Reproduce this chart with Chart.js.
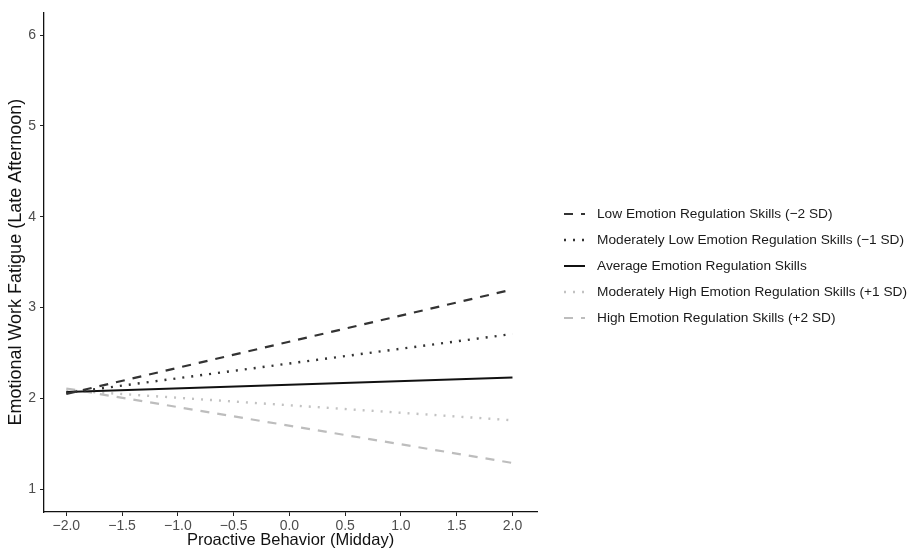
<!DOCTYPE html>
<html lang="en">
<head>
    <meta charset="UTF-8">
    <title>Emotional Work Fatigue</title>
    <style>
        html, body { margin: 0; padding: 0; background: #fff; }
        #box { width: 913px; height: 551px; }
    </style>
</head>
<body>
    <div id="box">
        <canvas id="grafico" width="913" height="551"></canvas>
    </div>

    <script src="https://cdn.jsdelivr.net/npm/chart.js"></script>
    <script>
    // dados
    const xValues = [-2, 2];
    const lowSD2 = [2.05, 3.20];
    const modLowSD1 = [2.06, 2.71];
    const average = [2.07, 2.23];
    const modHighSD1 = [2.09, 1.76];
    const highSD2 = [2.11, 1.29];

    const xTicks = [-2, -1.5, -1, -0.5, 0, 0.5, 1, 1.5, 2];
    const yTicks = [1, 2, 3, 4, 5, 6];

    const labels = [
        'Low Emotion Regulation Skills (\u22122 SD)',
        'Moderately Low Emotion Regulation Skills (\u22121 SD)',
        'Average Emotion Regulation Skills',
        'Moderately High Emotion Regulation Skills (+1 SD)',
        'High Emotion Regulation Skills (+2 SD)'
    ];

    function pontos(ys) {
        return xValues.map(function(x, i) { return { x: x, y: ys[i] }; });
    }

    const fonte = 'Liberation Sans, Arial, Helvetica, sans-serif';

    // legenda desenhada a mao (estilo ggplot)
    const legendaPlugin = {
        id: 'legendaPlugin',
        afterDraw: function(chart) {
            const ctx = chart.ctx;
            const x0 = 564, y0 = 214, passo = 26;
            chart.data.datasets.forEach(function(ds, i) {
                const y = y0 + i * passo;
                ctx.save();
                ctx.strokeStyle = ds.borderColor;
                ctx.lineWidth = ds.borderWidth;
                ctx.setLineDash(ds.borderDash || []);
                ctx.beginPath();
                ctx.moveTo(x0, y);
                ctx.lineTo(x0 + 21, y);
                ctx.stroke();
                ctx.restore();

                ctx.save();
                ctx.fillStyle = '#1a1a1a';
                ctx.font = '13.7px ' + fonte;
                ctx.textBaseline = 'middle';
                ctx.fillText(ds.label, 597, y);
                ctx.restore();
            });
        }
    };

    const ctx = document.getElementById('grafico');

    new Chart(ctx, {
        type: 'line',
        data: {
            datasets: [
                {
                    label: labels[0],
                    data: pontos(lowSD2),
                    borderColor: '#333333',
                    borderWidth: 2.2,
                    borderDash: [9, 8]
                },
                {
                    label: labels[1],
                    data: pontos(modLowSD1),
                    borderColor: '#333333',
                    borderWidth: 2.4,
                    borderDash: [2, 7]
                },
                {
                    label: labels[2],
                    data: pontos(average),
                    borderColor: '#111111',
                    borderWidth: 2
                },
                {
                    label: labels[3],
                    data: pontos(modHighSD1),
                    borderColor: '#c2c2c2',
                    borderWidth: 2.4,
                    borderDash: [2, 7]
                },
                {
                    label: labels[4],
                    data: pontos(highSD2),
                    borderColor: '#bdbdbd',
                    borderWidth: 2.2,
                    borderDash: [9, 8]
                }
            ]
        },
        options: {
            responsive: false,
            animation: false,
            devicePixelRatio: 1,
            layout: { padding: { top: 10, right: 376, left: 0, bottom: 0 } },
            elements: { point: { radius: 0 }, line: { tension: 0 } },
            plugins: {
                legend: { display: false },
                tooltip: { enabled: false }
            },
            scales: {
                x: {
                    type: 'linear',
                    min: -2.2,
                    max: 2.22,
                    afterBuildTicks: function(scale) {
                        scale.ticks = xTicks.map(function(v) { return { value: v }; });
                    },
                    afterFit: function(scale) { scale.height = 39; },
                    ticks: {
                        color: '#4d4d4d',
                        font: { size: 14, family: fonte },
                        padding: 2,
                        maxRotation: 0,
                        autoSkip: false,
                        callback: function(v) { return Number(v).toFixed(1).replace('-', '\u2212'); }
                    },
                    grid: { drawOnChartArea: false, drawTicks: true, tickLength: 4, color: '#222', tickWidth: 1 },
                    border: { display: true, color: '#111', width: 1.3 },
                    title: {
                        display: true,
                        text: 'Proactive Behavior (Midday)',
                        color: '#111',
                        font: { size: 16.5, family: fonte },
                        padding: { top: 0, bottom: 1 }
                    }
                },
                y: {
                    type: 'linear',
                    min: 0.75,
                    max: 6.25,
                    afterBuildTicks: function(scale) {
                        scale.ticks = yTicks.map(function(v) { return { value: v }; });
                    },
                    afterFit: function(scale) { scale.width = 44; },
                    ticks: {
                        color: '#4d4d4d',
                        font: { size: 14, family: fonte },
                        padding: 4,
                        autoSkip: false,
                        callback: function(v) { return String(v); }
                    },
                    grid: { drawOnChartArea: false, drawTicks: true, tickLength: 4, color: '#222', tickWidth: 1 },
                    border: { display: true, color: '#111', width: 1.3 },
                    title: {
                        display: true,
                        text: 'Emotional Work Fatigue (Late Afternoon)',
                        color: '#111',
                        font: { size: 18, family: fonte },
                        padding: { top: 5, bottom: 0 }
                    }
                }
            }
        },
        plugins: [legendaPlugin]
    });
    </script>
</body>
</html>
